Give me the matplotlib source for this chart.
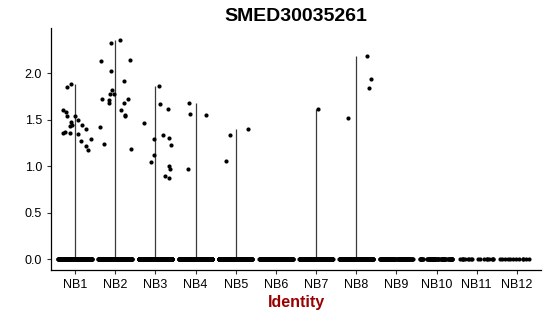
import numpy as np
import matplotlib
matplotlib.use("Agg")
import matplotlib.pyplot as plt

plt.rcParams['font.family'] = ['Liberation Sans', 'DejaVu Sans']

clusters = ["NB1", "NB2", "NB3", "NB4", "NB5", "NB6",
            "NB7", "NB8", "NB9", "NB10", "NB11", "NB12"]

# expressing cells per cluster
expr = {
    "NB1": [1.89, 1.85, 1.48, 1.54, 1.40, 1.36, 1.37, 1.44, 1.45, 1.36,
            1.29, 1.18, 1.59, 1.61, 1.54, 1.50, 1.43, 1.35, 1.27, 1.22],
    "NB2": [2.36, 2.33, 2.15, 2.13, 2.03, 1.92, 1.82, 1.78, 1.78, 1.72,
            1.71, 1.72, 1.68, 1.68, 1.61, 1.55, 1.54, 1.42, 1.24, 1.19],
    "NB3": [1.86, 1.67, 1.62, 1.47, 1.34, 1.29, 1.30, 1.23, 1.12, 1.05,
            1.00, 0.97, 0.90, 0.87],
    "NB4": [1.68, 1.55, 1.56, 0.97],
    "NB5": [1.06, 1.34, 1.40],
    "NB6": [],
    "NB7": [1.62],
    "NB8": [1.84, 1.94, 1.52, 2.19],
    "NB9": [], "NB10": [], "NB11": [], "NB12": [],
}
# cells with zero expression per cluster (estimated)
n_zero = [400, 320, 320, 300, 260, 220, 220, 220, 120, 70, 18, 12]

rng = np.random.default_rng(3)

fig = plt.figure(figsize=(5.5, 3.16), dpi=100)
ax = fig.add_axes([51 / 550, 1 - 270 / 316, 490 / 550, 242 / 316])

for i, name in enumerate(clusters):
    pos = i + 1
    vals = np.concatenate([np.zeros(n_zero[i]), np.array(expr[name], dtype=float)])
    if vals.max() > 0:
        ax.vlines(pos, vals.min(), vals.max(), color="#3a3a3a", lw=0.9, zorder=1)
    xs = pos + rng.uniform(-0.42, 0.42, len(vals))
    ax.scatter(xs, vals, s=9, color="black", linewidths=0, zorder=2)

ax.set_xlim(0.4, 12.6)
ax.set_ylim(-0.118, 2.49)
ax.set_xticks(range(1, 13))
ax.set_xticklabels(clusters)
ax.set_yticks([0, 0.5, 1.0, 1.5, 2.0])
ax.set_yticklabels(["0.0", "0.5", "1.0", "1.5", "2.0"])
ax.tick_params(labelsize=9, length=3, width=0.8, color="#333333", labelcolor="black")
for side in ["top", "right"]:
    ax.spines[side].set_visible(False)
for side in ["left", "bottom"]:
    ax.spines[side].set_linewidth(0.9)

ax.set_title("SMED30035261", fontsize=14, fontweight="bold", pad=5)
ax.set_xlabel("Identity", fontsize=11.5, fontweight="bold", color="#990000", labelpad=3)

fig.savefig("out.png", dpi=100)
